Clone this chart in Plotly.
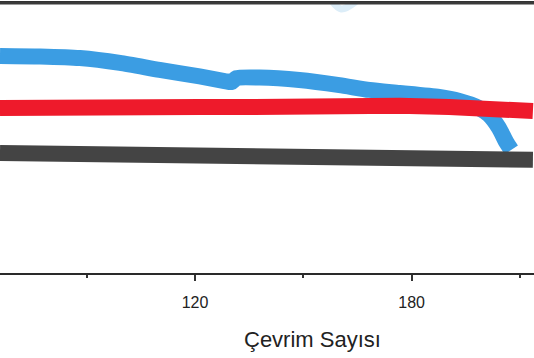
import plotly.graph_objects as go

# Cycle numbers and values (arbitrary % scale; y-axis hidden in reference)
blue_x = [66, 77.1, 88.1, 99.2, 110.2, 121.3, 128.2, 130.1, 131.5, 137.9, 148.9, 160.0, 168.3, 176.6, 187.6, 193.2, 198.7, 201.5, 204.2, 206.2, 207.6]
blue_y = [80.4, 80.2, 79.6, 77.8, 75.2, 72.8, 71.1, 70.7, 72.2, 72.4, 71.5, 69.6, 67.8, 66.7, 65.2, 63.7, 61.1, 58.5, 53.7, 48.5, 45.6]

red_x = [66, 79.8, 93.6, 107.5, 121.3, 135.1, 148.9, 162.8, 176.6, 190.4, 204.2, 213.6]
red_y = [61.1, 61.5, 61.9, 61.9, 61.5, 61.5, 61.9, 62.2, 61.9, 61.5, 60.7, 60.0]

gray_x = [66, 79.8, 93.6, 107.5, 121.3, 135.1, 148.9, 162.8, 176.6, 190.4, 204.2, 213.6]
gray_y = [44.4, 44.1, 44.1, 44.4, 44.4, 44.1, 43.7, 43.7, 43.0, 42.6, 42.2, 41.9]

faint_x = [157.5, 160.5, 164.5]
faint_y = [101.5, 97.8, 100.5]

fig = go.Figure()
fig.add_trace(go.Scatter(x=faint_x, y=faint_y, mode="lines",
                         line=dict(color="#dcedf8", width=7, shape="spline"), showlegend=False))
fig.add_trace(go.Scatter(x=blue_x, y=blue_y, mode="lines",
                         line=dict(color="#3b9de3", width=16, shape="spline", smoothing=0.6), showlegend=False))
fig.add_trace(go.Scatter(x=gray_x, y=gray_y, mode="lines",
                         line=dict(color="#444444", width=16), showlegend=False))
fig.add_trace(go.Scatter(x=red_x, y=red_y, mode="lines",
                         line=dict(color="#ee1a2b", width=16), showlegend=False))

fig.update_layout(
    width=534, height=358,
    margin=dict(l=0, r=0, t=3, b=85),
    paper_bgcolor="white", plot_bgcolor="white",
    font=dict(family="Liberation Sans, Arial, sans-serif", color="#222222"),
    xaxis=dict(
        range=[66, 213.9], showgrid=False, zeroline=False,
        showline=True, linecolor="#2a2a2a", linewidth=2, mirror=True,
        tick0=0, dtick=60, ticks="outside", ticklen=6, tickwidth=2, tickcolor="#333333",
        ticklabelstandoff=8,
        tickfont=dict(size=16, color="#222222"),
        minor=dict(dtick=30, tick0=0, ticks="outside", ticklen=3, tickwidth=2, tickcolor="#333333"),
    ),
    yaxis=dict(range=[0, 100], visible=False, showgrid=False),
    annotations=[dict(text="Çevrim Sayısı", xref="paper", yref="paper",
                      x=0.586, y=-0.245, xanchor="center", yanchor="middle",
                      showarrow=False, font=dict(size=22, color="#222222"))],
    shapes=[dict(type="line", xref="paper", yref="paper", x0=0, x1=1, y0=1, y1=1,
                 line=dict(color="#3a3a3a", width=3))],
)

fig.write_html("out.html")
